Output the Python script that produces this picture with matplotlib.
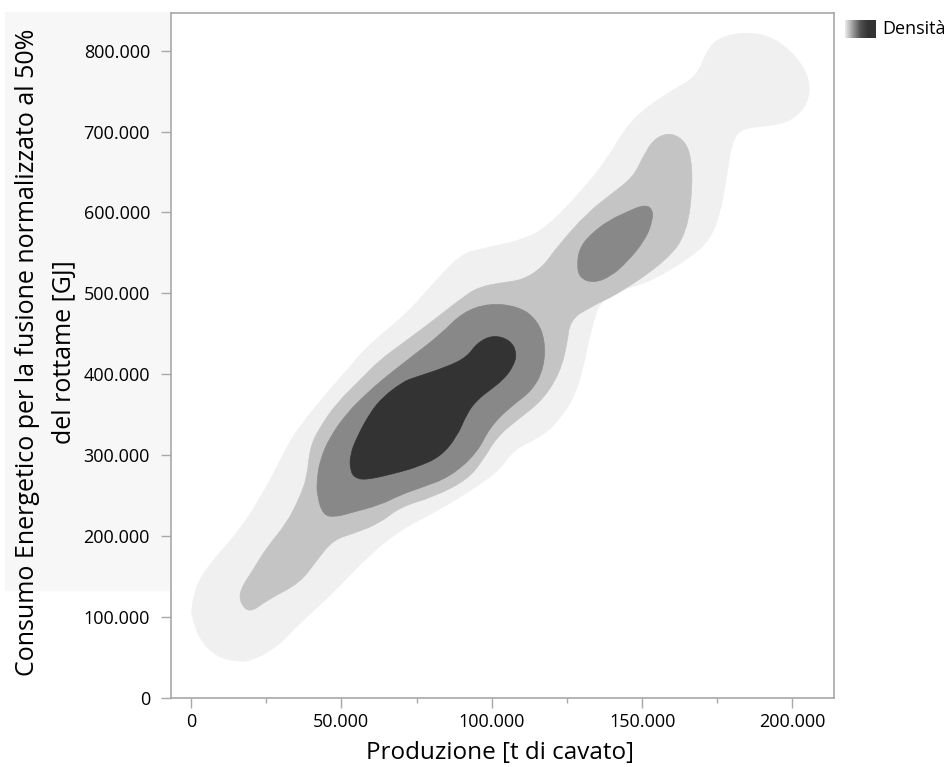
import numpy as np
import matplotlib
matplotlib.use("Agg")
import matplotlib.pyplot as plt
from matplotlib.colors import LinearSegmentedColormap
from matplotlib.patches import Rectangle, PathPatch
from matplotlib.path import Path
from matplotlib.ticker import FuncFormatter, MultipleLocator

plt.rcParams['font.family'] = ['Open Sans', 'DejaVu Sans']

# density contour outlines, values in thousands
# (x = Produzione [t], y = Consumo Energetico [GJ])
lvl1_x = [0, 2.0, 7.3, 16.3, 23.6, 28.6, 33.0, 38.6, 45.2, 51.9, 58.5, 65.2, 72.8, 79.5, 89.4,
          96.1, 110.4, 118.4, 129.3, 138.3, 146.0, 158.3, 168.2, 171.6, 175.9, 184.9, 193.5, 201.5,
          205.8, 205.2, 200.2, 192.5, 183.5, 179.9, 177.6, 175.9, 172.6, 164.9, 151.6, 142.6, 136.0,
          132.7, 130.3, 127.0, 121.0, 116.0, 107.1, 102.7, 91.8, 80.5, 69.5, 58.5, 47.2, 36.2, 28.6,
          20.6, 16.3, 8.6, 3.0, 0.7]
lvl1_y = [108.4, 141.8, 170.3, 207.4, 250.6, 285.3, 318.6, 347.1, 376.8, 405.2, 433.6, 454.7, 479.4,
          507.8, 547.4, 554.8, 566.0, 582.0, 624.1, 664.9, 714.3, 747.7, 767.5, 800.9, 817.0, 823.1,
          817.0, 792.2, 763.8, 735.3, 714.3, 706.9, 704.4, 689.6, 631.5, 599.3, 566.0, 541.2, 512.8,
          504.1, 491.8, 451.0, 405.2, 368.1, 337.2, 322.4, 306.3, 281.6, 253.1, 228.4, 207.4, 174.0,
          129.5, 92.4, 62.7, 46.6, 44.1, 50.3, 71.3, 96.1]

lvl2_x = [16.3, 16.3, 20.6, 25.3, 31.9, 36.2, 38.6, 39.6, 42.9, 48.5, 56.2, 62.8, 70.5, 79.5, 91.8,
          96.1, 102.7, 110.4, 117.0, 121.7, 131.7, 140.3, 147.0, 150.3, 153.6, 158.3, 162.6, 165.9,
          166.9, 164.9, 158.3, 142.6, 132.7, 126.0, 125.0, 122.7, 117.0, 108.4, 101.7, 97.1, 91.8,
          80.5, 69.5, 62.8, 54.5, 47.2, 41.9, 36.2, 25.3, 19.6]
lvl2_y = [117.1, 133.2, 157.9, 186.3, 216.0, 248.2, 272.9, 310.0, 334.7, 364.4, 392.8, 417.6, 438.6,
          463.3, 499.2, 507.8, 512.8, 516.5, 532.6, 557.3, 599.3, 624.1, 643.8, 668.6, 689.6, 698.2,
          693.3, 677.2, 636.4, 574.6, 541.2, 500.4, 483.1, 467.0, 436.1, 402.7, 368.1, 343.4, 322.4,
          293.9, 269.2, 248.2, 235.8, 216.0, 203.7, 195.0, 170.3, 141.8, 120.8, 104.7]

lvl3a_x = [43.9, 41.9, 41.9, 42.9, 46.2, 51.9, 57.9, 63.5, 72.8, 82.8, 90.4, 99.4, 109.4, 115.0,
           117.7, 117.4, 113.7, 106.1, 99.4, 95.1, 86.1, 76.1, 69.5, 62.8, 52.9, 47.9]
lvl3a_y = [225.9, 250.6, 269.2, 293.9, 322.4, 352.0, 374.3, 392.8, 420.0, 448.5, 476.9, 488.0,
           483.1, 467.0, 442.3, 408.9, 380.5, 359.4, 334.7, 302.6, 272.9, 259.3, 250.6, 238.3,
           228.4, 223.4]

lvl3b_x = [128.3, 129.3, 133.7, 139.3, 145.0, 150.3, 153.3, 153.6, 151.0, 145.0, 139.3, 133.7, 129.3]
lvl3b_y = [535.0, 557.3, 575.8, 590.7, 600.6, 609.2, 605.5, 590.7, 566.0, 538.7, 520.2, 512.8, 519.0]

lvl4_x = [52.9, 52.9, 55.2, 59.5, 63.8, 70.5, 73.8, 85.1, 91.8, 95.1, 100.4, 106.1, 108.4, 107.1,
          103.7, 99.4, 95.1, 91.8, 88.4, 82.8, 75.1, 69.5, 58.5, 54.5]
lvl4_y = [281.6, 300.1, 322.4, 352.0, 371.8, 390.4, 395.3, 408.9, 421.3, 438.6, 448.5, 442.3,
          426.2, 408.9, 392.8, 380.5, 368.1, 352.0, 322.4, 297.6, 285.3, 279.1, 269.2, 271.7]

levels = [(lvl1_x, lvl1_y, "#f0f0f0"),
          (lvl2_x, lvl2_y, "#c4c4c4"),
          (lvl3a_x, lvl3a_y, "#888888"),
          (lvl3b_x, lvl3b_y, "#888888"),
          (lvl4_x, lvl4_y, "#333333")]


def smooth_outline(xs, ys):
    # closed outline drawn as quadratic curves, the read points act as control points
    p = np.column_stack([xs, ys]) * 1000
    mids = (p + np.roll(p, -1, axis=0)) / 2
    verts = [mids[-1]]
    codes = [Path.MOVETO]
    for i in range(len(p)):
        verts += [p[i], mids[i]]
        codes += [Path.CURVE3, Path.CURVE3]
    return Path(verts, codes)


fig = plt.figure(figsize=(9.52, 7.67), dpi=100)
W, H = 952.0, 767.0

# light panel behind the y label
fig.patches.append(Rectangle((5 / W, 1 - 590 / H), 165 / W, 578 / H,
                             transform=fig.transFigure, color="#f7f7f7", zorder=-10))

ax = fig.add_axes([171 / W, 1 - 697.7 / H, 663 / W, 684.7 / H])

for xs, ys, col in levels:
    ax.add_patch(PathPatch(smooth_outline(xs, ys), facecolor=col, edgecolor=col, lw=0.5))

ax.set_xlim(-6650, 213800)
ax.set_ylim(0, 846600)

fmt = FuncFormatter(lambda v, p: f"{v:,.0f}".replace(",", "."))
ax.xaxis.set_major_locator(MultipleLocator(50000))
ax.xaxis.set_minor_locator(MultipleLocator(25000))
ax.yaxis.set_major_locator(MultipleLocator(100000))
ax.xaxis.set_major_formatter(fmt)
ax.yaxis.set_major_formatter(fmt)

grey = "#a8a8a8"
for sp in ax.spines.values():
    sp.set_color(grey)
    sp.set_linewidth(1.2)
ax.tick_params(axis='both', which='major', length=7.2, width=1, color=grey,
               labelsize=13, labelcolor='black')
ax.tick_params(axis='y', pad=8)
ax.tick_params(axis='x', pad=4)
ax.tick_params(axis='x', which='minor', length=3.6, width=1, color=grey)

# axis titles
fig.text(500.5 / W, 1 - 759 / H, "Produzione [t di cavato]", fontsize=17.5,
         ha='center', va='baseline')
fig.text(34 / W, 1 - 352.5 / H, "Consumo Energetico per la fusione normalizzato al 50%",
         fontsize=18, rotation=90, rotation_mode='anchor', ha='center', va='baseline')
fig.text(71 / W, 1 - 352.5 / H, "del rottame [GJ]",
         fontsize=18, rotation=90, rotation_mode='anchor', ha='center', va='baseline')

# density legend swatch
lax = fig.add_axes([845 / W, 1 - 38 / H, 31 / W, 18 / H])
cmap = LinearSegmentedColormap.from_list("dens", ["#ececec", "#9a9a9a", "#505050", "#333333", "#333333"])
lax.imshow(np.linspace(0, 1, 64).reshape(1, -1), aspect='auto', cmap=cmap)
lax.set_axis_off()
fig.text(882 / W, 1 - 29 / H, "Densità", fontsize=13, ha='left', va='center')

fig.savefig("out.png", dpi=100)
